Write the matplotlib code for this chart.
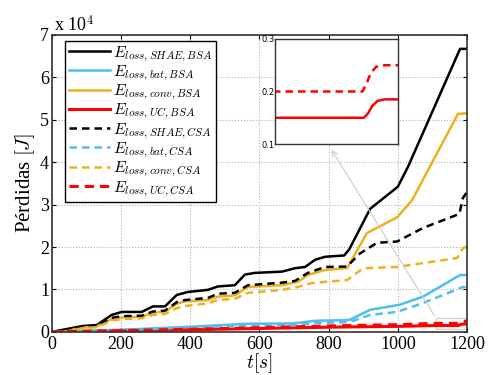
import matplotlib
matplotlib.use('Agg')
import matplotlib.pyplot as plt
from matplotlib.patches import Rectangle

plt.rcParams['font.family'] = 'serif'
plt.rcParams['font.serif'] = ['Liberation Serif', 'DejaVu Serif']
plt.rcParams['mathtext.fontset'] = 'cm'

# energy losses, in units of 1e4 J
t_shae_bsa = [0, 32, 90, 130, 173, 202, 260, 292, 327, 361, 393, 451, 480, 529, 558, 587, 665, 703, 732, 761, 790, 845, 860, 920, 1000, 1030, 1180, 1200]
shae_bsa = [0, 0.05, 0.14, 0.16, 0.4, 0.47, 0.47, 0.6, 0.6, 0.87, 0.94, 0.99, 1.07, 1.1, 1.35, 1.39, 1.42, 1.5, 1.53, 1.7, 1.77, 1.8, 1.95, 2.9, 3.42, 3.9, 6.67, 6.67]

t_conv_bsa = [0, 40, 90, 130, 173, 202, 260, 292, 327, 361, 385, 451, 480, 529, 567, 665, 712, 740, 790, 853, 911, 998, 1041, 1174, 1200]
conv_bsa = [0, 0.02, 0.1, 0.13, 0.3, 0.34, 0.36, 0.45, 0.48, 0.66, 0.72, 0.75, 0.83, 0.86, 1.06, 1.1, 1.18, 1.34, 1.46, 1.5, 2.33, 2.7, 3.1, 5.14, 5.15]

t_shae_csa = [0, 40, 90, 130, 173, 202, 260, 292, 327, 361, 385, 451, 480, 529, 567, 665, 703, 740, 790, 853, 891, 940, 998, 1073, 1178, 1188, 1200]
shae_csa = [0, 0.03, 0.12, 0.14, 0.33, 0.37, 0.38, 0.48, 0.5, 0.7, 0.75, 0.8, 0.9, 0.92, 1.1, 1.16, 1.2, 1.39, 1.53, 1.54, 1.85, 2.1, 2.13, 2.45, 2.78, 3.15, 3.3]

t_conv_csa = [0, 40, 90, 130, 173, 202, 260, 292, 327, 361, 385, 451, 480, 529, 567, 665, 712, 752, 790, 853, 900, 998, 1171, 1189, 1200]
conv_csa = [0, 0.01, 0.09, 0.11, 0.27, 0.3, 0.32, 0.4, 0.42, 0.56, 0.61, 0.67, 0.75, 0.78, 0.92, 0.99, 1.06, 1.15, 1.18, 1.22, 1.5, 1.53, 1.74, 1.98, 2.0]

t_bat_bsa = [0, 200, 400, 560, 700, 760, 860, 920, 1006, 1073, 1180, 1200]
bat_bsa = [0, 0.05, 0.12, 0.19, 0.2, 0.26, 0.28, 0.52, 0.64, 0.83, 1.34, 1.34]

t_bat_csa = [0, 200, 400, 560, 700, 760, 860, 920, 998, 1073, 1189, 1200]
bat_csa = [0, 0.04, 0.1, 0.15, 0.16, 0.21, 0.23, 0.4, 0.47, 0.68, 1.06, 1.05]

t_uc_bsa = [0, 200, 400, 600, 800, 1000, 1100, 1110, 1175, 1178, 1181, 1185, 1190, 1200]
uc_bsa = [0, 0.02, 0.05, 0.08, 0.11, 0.13, 0.148, 0.15, 0.15, 0.158, 0.172, 0.182, 0.185, 0.185]

t_uc_csa = [0, 200, 400, 600, 800, 1000, 1100, 1110, 1174, 1177, 1180, 1184, 1190, 1200]
uc_csa = [0, 0.03, 0.06, 0.1, 0.14, 0.17, 0.198, 0.2, 0.2, 0.215, 0.235, 0.247, 0.25, 0.25]

c_blue = '#4DBEEE'
c_orange = '#EDB120'
c_red = '#FF0000'

series = [
    (t_shae_bsa, shae_bsa, 'k', '-', r'$E_{loss,SHAE,BSA}$'),
    (t_bat_bsa, bat_bsa, c_blue, '-', r'$E_{loss,bat,BSA}$'),
    (t_conv_bsa, conv_bsa, c_orange, '-', r'$E_{loss,conv,BSA}$'),
    (t_uc_bsa, uc_bsa, c_red, '-', r'$E_{loss,UC,BSA}$'),
    (t_shae_csa, shae_csa, 'k', '--', r'$E_{loss,SHAE,CSA}$'),
    (t_bat_csa, bat_csa, c_blue, '--', r'$E_{loss,bat,CSA}$'),
    (t_conv_csa, conv_csa, c_orange, '--', r'$E_{loss,conv,CSA}$'),
    (t_uc_csa, uc_csa, c_red, '--', r'$E_{loss,UC,CSA}$'),
]

fig = plt.figure(figsize=(4.89, 3.75), dpi=100)
ax = fig.add_axes([0.106, 0.115, 0.849, 0.792])

for t, y, c, ls, lab in series:
    lw = 2.2 if c == c_red else 1.8
    ax.plot(t, y, color=c, linestyle=ls, linewidth=lw, label=lab, dashes=(3, 2) if ls == '--' else (None, None))

ax.set_xlim(0, 1200)
ax.set_ylim(0, 7)
ax.set_xticks([0, 200, 400, 600, 800, 1000, 1200])
ax.set_yticks(range(8))
ax.grid(True, linestyle=':', color='#b0b0b0', linewidth=0.8)
ax.tick_params(direction='in', top=True, right=True, labelsize=13, length=3)
ax.tick_params(axis='x', pad=3)
ax.tick_params(axis='y', pad=2)
for s in ax.spines.values():
    s.set_linewidth(1.2)
    s.set_color('#333333')
ax.set_xlabel(r'$t[s]$', fontsize=14, labelpad=-1)
ax.set_ylabel(r'Pérdidas $[J]$', fontsize=15, labelpad=2)
fig.text(0.11, 0.915, r'x 10$^4$', fontsize=13)

leg = ax.legend(loc='upper left', bbox_to_anchor=(0.025, 0.99), fontsize=11.5,
                handlelength=2.6, handletextpad=0.2, labelspacing=0.0,
                borderpad=0.2, borderaxespad=0.2, fancybox=False, framealpha=1)
leg.get_frame().set_edgecolor('k')
leg.get_frame().set_linewidth(1.0)

# zoom rectangle and arrow
ax.add_patch(Rectangle((1110, 0.07), 88, 0.26, fill=False, edgecolor='#d8c8c8', linewidth=0.8))
ax.annotate('', xy=(0.675, 0.607), xycoords='figure fraction', xytext=(1110, 0.33),
            textcoords='data', arrowprops=dict(arrowstyle='->', color='#cccccc', lw=0.8))

# inset
axin = fig.add_axes([0.562, 0.616, 0.252, 0.28])
axin.plot(t_uc_bsa, uc_bsa, color=c_red, linewidth=1.8)
axin.plot(t_uc_csa, uc_csa, color=c_red, linewidth=1.8, dashes=(3, 2))
axin.set_xlim(1110, 1200)
axin.set_ylim(0.1, 0.3)
axin.set_xticks([])
axin.set_yticks([0.1, 0.2, 0.3])
axin.set_yticklabels(['0.1', '0.2', '0.3'], family='DejaVu Sans')
axin.tick_params(direction='in', labelsize=6, length=0, pad=0)
for s in axin.spines.values():
    s.set_linewidth(1.0)
    s.set_color('#333333')

fig.savefig('out.png', dpi=100)
